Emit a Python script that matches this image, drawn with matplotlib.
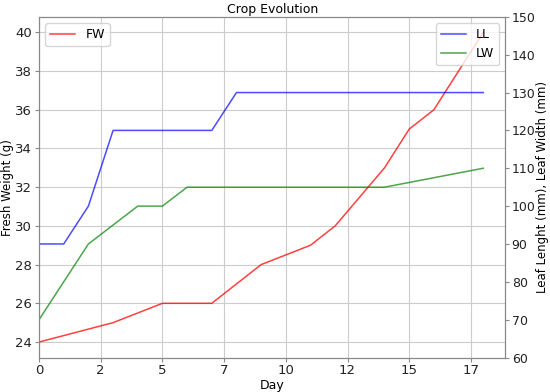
import matplotlib
matplotlib.use("Agg")
import matplotlib.pyplot as plt
from matplotlib.ticker import FixedLocator

# Data
fw_days = [0, 3, 5, 7, 9, 11, 12, 14, 15, 16, 18]
fw_vals = [24, 25, 26, 26, 28, 29, 30, 33, 35, 36, 40]
ll_days = [0, 1, 2, 3, 7, 8, 18]
ll_vals = [90, 90, 100, 120, 120, 130, 130]
lw_days = [0, 2, 4, 5, 6, 14, 18]
lw_vals = [70, 90, 100, 100, 105, 105, 110]
xtick_pos = [0, 2.5, 5, 7.5, 10, 12.5, 15, 17.5]
xtick_labels = ["0", "2", "5", "7", "10", "12", "15", "17"]

plt.rcParams['font.family'] = ['DejaVu Sans']

fig = plt.figure(figsize=(5.5, 3.92), dpi=100)
ax1 = fig.add_axes([0.071, 0.088, 0.848, 0.869])
ax2 = ax1.twinx()

ax1.plot(fw_days, fw_vals, color='r', alpha=0.75, lw=1.1, label='FW')
ax2.plot(ll_days, ll_vals, color='b', alpha=0.7, lw=1.1, label='LL')
ax2.plot(lw_days, lw_vals, color='g', alpha=0.7, lw=1.1, label='LW')

ax1.set_xlim(0, 18.9)
ax1.set_ylim(23.2, 40.8)
ax2.set_ylim(60, 150)
ax1.xaxis.set_major_locator(FixedLocator(xtick_pos))
ax1.set_xticklabels(xtick_labels)
ax1.set_yticks([24, 26, 28, 30, 32, 34, 36, 38, 40])
ax2.set_yticks(range(60, 151, 10))

ax1.grid(True, color='#cccccc', lw=0.8)
for ax in (ax1, ax2):
    for s in ax.spines.values():
        s.set_color('#888888')
    ax.tick_params(labelsize=9.5, colors='#222222', color='#888888',
                   length=3, pad=2)
ax2.tick_params(labelsize=9, pad=1.5)

ax1.set_xlabel('Day', fontsize=9, labelpad=1)
ax1.set_ylabel('Fresh Weight (g)', fontsize=8.5, labelpad=1)
ax2.set_ylabel('Leaf Lenght (mm), Leaf Width (mm)', fontsize=8.5, labelpad=0)
ax1.set_title('Crop Evolution', fontsize=9, pad=3)

ax1.legend(loc='upper left', fontsize=9)
ax2.legend(loc='upper right', fontsize=9)

fig.savefig('out.png', dpi=100)
